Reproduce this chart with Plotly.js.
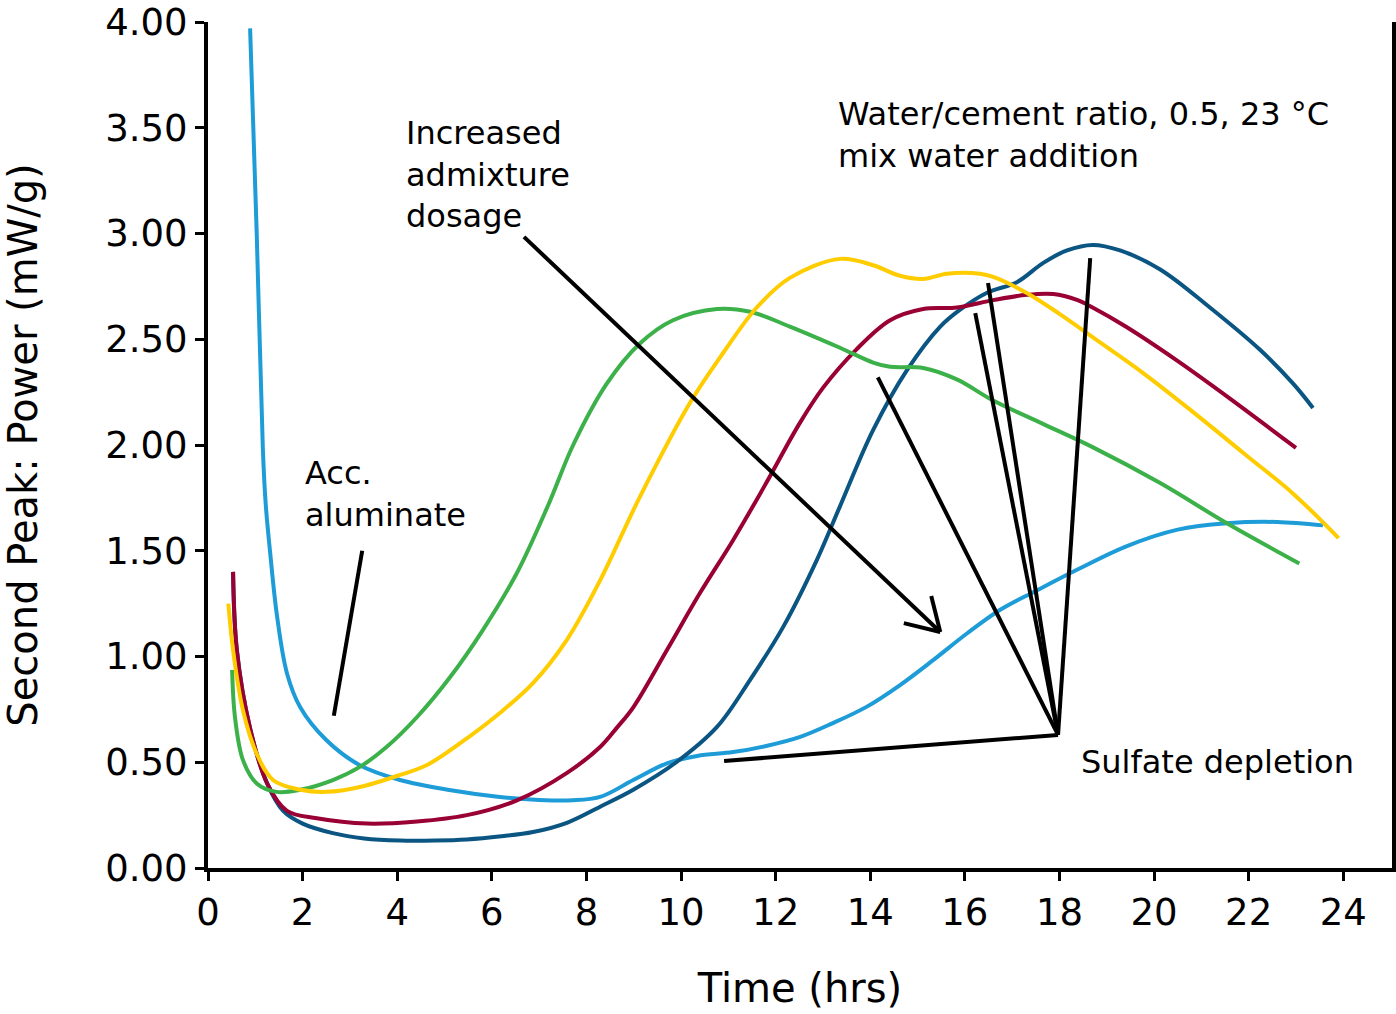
<!DOCTYPE html>
<html>
<head>
<meta charset="utf-8">
<script src="https://cdn.plot.ly/plotly-3.0.1.min.js"></script>
<style>html,body{margin:0;padding:0;background:#fff;}#chart{width:1396px;height:1014px;}</style>
</head>
<body>
<div id="chart"></div>
<script>
// Time (hrs) and power (mW/g) for each mix
const lightBlueTime = [0.89,1.03,1.16,1.22,1.31,1.46,1.67,1.95,2.5,3.2,4.06,5.1,6.17,7.0,7.7,8.29,8.99,9.7,10.34,11.1,11.8,12.52,13.2,13.93,14.63,15.33,16.05,16.74,17.5,18.37,19.4,20.5,21.54,22.6,23.57];
const lightBluePower = [3.97,3.0,1.98,1.72,1.50,1.19,0.92,0.76,0.605,0.487,0.416,0.369,0.336,0.322,0.32,0.336,0.416,0.495,0.53,0.548,0.577,0.62,0.684,0.763,0.865,0.983,1.11,1.22,1.31,1.41,1.52,1.60,1.63,1.636,1.62];

const darkBlueTime = [0.53,0.61,0.89,1.25,1.59,2.0,2.64,3.3,4.06,4.8,5.47,6.2,6.87,7.6,8.29,8.99,9.9,10.76,11.46,12.16,12.87,13.36,14.06,14.78,15.48,15.9,16.47,17.1,17.65,18.16,18.7,19.28,20.13,21.18,22.24,22.94,23.36];
const darkBluePower = [1.40,1.03,0.66,0.40,0.27,0.21,0.165,0.14,0.13,0.13,0.135,0.15,0.17,0.215,0.29,0.37,0.50,0.667,0.89,1.14,1.456,1.71,2.07,2.355,2.56,2.64,2.72,2.77,2.86,2.92,2.946,2.92,2.83,2.65,2.45,2.29,2.175];

const crimsonTime = [0.53,0.61,0.89,1.25,1.67,2.3,3.36,4.42,5.47,6.53,7.59,8.29,8.65,8.99,9.7,10.4,11.1,11.8,12.5,13.0,13.7,14.42,15.12,15.83,16.6,17.3,17.87,18.37,18.7,19.4,20.48,21.54,23.0];
const crimsonPower = [1.40,1.03,0.66,0.40,0.27,0.235,0.21,0.22,0.25,0.32,0.45,0.572,0.665,0.76,1.03,1.30,1.55,1.82,2.10,2.27,2.45,2.59,2.643,2.65,2.685,2.71,2.714,2.686,2.65,2.56,2.40,2.23,1.986];

const greenTime = [0.51,0.57,0.74,1.03,1.45,1.95,2.64,3.21,3.78,4.42,5.12,5.81,6.53,7.2,7.72,8.43,9.13,9.83,10.76,11.46,12.3,13.36,14.06,14.42,15.12,15.83,16.6,17.65,18.7,20.13,21.54,23.07];
const greenPower = [0.936,0.714,0.51,0.40,0.36,0.37,0.416,0.478,0.573,0.714,0.903,1.125,1.395,1.72,2.0,2.29,2.48,2.59,2.643,2.63,2.56,2.46,2.39,2.37,2.364,2.31,2.21,2.10,1.99,1.82,1.63,1.44];

const yellowTime = [0.43,0.53,0.74,1.03,1.38,1.95,2.51,3.21,4.06,4.63,5.33,6.17,6.87,7.59,8.29,9.13,10.19,10.89,11.6,12.3,13.36,14.06,14.63,15.12,15.62,16.32,16.6,17.3,18.0,18.7,19.77,20.8,21.9,22.94,23.9];
const yellowPower = [1.25,1.03,0.745,0.54,0.415,0.37,0.36,0.383,0.44,0.487,0.59,0.733,0.874,1.08,1.36,1.755,2.20,2.435,2.65,2.79,2.88,2.85,2.80,2.785,2.81,2.81,2.795,2.72,2.62,2.51,2.34,2.16,1.96,1.77,1.56];

const xTicks = [0,2,4,6,8,10,12,14,16,18,20,22,24];
const yTicks = [0,0.5,1,1.5,2,2.5,3,3.5,4];

const FONT = '"DejaVu Sans", "Liberation Sans", sans-serif';

function series(x, y, color) {
  return {x: x, y: y, type: 'scatter', mode: 'lines',
    line: {color: color, width: 4, shape: 'spline', smoothing: 1},
    hoverinfo: 'skip', showlegend: false};
}

const traces = [
  series(lightBlueTime, lightBluePower, '#1E9CD8'),
  series(darkBlueTime, darkBluePower, '#0B5583'),
  series(crimsonTime, crimsonPower, '#990033'),
  series(greenTime, greenPower, '#3CB14A'),
  series(yellowTime, yellowPower, '#FFCC00')
];

function seg(x0, y0, x1, y1) {
  return {type: 'line', xref: 'x', yref: 'y', x0: x0, y0: y0, x1: x1, y1: y1,
    line: {color: '#000', width: 4}, layer: 'above'};
}

const shapes = [
  seg(3.26, 1.50, 2.66, 0.72),
  seg(6.68, 2.984, 15.48, 1.116),
  seg(14.71, 1.158, 15.48, 1.116),
  seg(15.29, 1.286, 15.48, 1.116),
  seg(10.91, 0.506, 17.97, 0.629),
  seg(14.16, 2.32, 17.97, 0.629),
  seg(16.22, 2.624, 17.97, 0.629),
  seg(16.49, 2.766, 17.97, 0.629),
  seg(18.65, 2.884, 17.97, 0.629)
];

function note(text, x, y) {
  return {text: text, x: x, y: y, xref: 'x', yref: 'y', xanchor: 'left', yanchor: 'middle',
    align: 'left', showarrow: false, font: {family: FONT, size: 32, color: '#000'}};
}

const annotations = [
  note('Acc.<br>aluminate', 2.0, 1.768),
  note('Increased<br>admixture<br>dosage', 4.15, 3.281),
  note('Water/cement ratio, 0.5, 23 °C<br>mix water addition', 13.28, 3.466),
  note('Sulfate depletion', 18.42, 0.501)
];

const layout = {
  width: 1396, height: 1014,
  margin: {l: 208, r: 4, t: 22, b: 146, pad: 0},
  paper_bgcolor: '#fff', plot_bgcolor: '#fff',
  font: {family: FONT, color: '#000'},
  showlegend: false,
  xaxis: {
    range: [0, 25.03], tickvals: xTicks, ticktext: xTicks.map(String),
    showgrid: false, zeroline: false, showline: true, linecolor: '#000', linewidth: 4,
    ticks: 'outside', ticklen: 9, tickwidth: 3, tickcolor: '#000',
    tickfont: {family: FONT, size: 37, color: '#000'},
    title: {text: 'Time (hrs)', font: {family: FONT, size: 40, color: '#000'}, standoff: 42}
  },
  yaxis: {
    range: [0, 4], tickvals: yTicks, ticktext: yTicks.map(v => v.toFixed(2)),
    showgrid: false, zeroline: false, showline: true, mirror: true, linecolor: '#000', linewidth: 4,
    ticks: 'outside', ticklen: 9, tickwidth: 3, tickcolor: '#000',
    tickfont: {family: FONT, size: 37, color: '#000'},
    title: {text: 'Second Peak: Power (mW/g)', font: {family: FONT, size: 40, color: '#000'}, standoff: 56}
  },
  shapes: shapes,
  annotations: annotations
};

Plotly.newPlot('chart', traces, layout, {displayModeBar: false, staticPlot: true});
</script>
</body>
</html>
